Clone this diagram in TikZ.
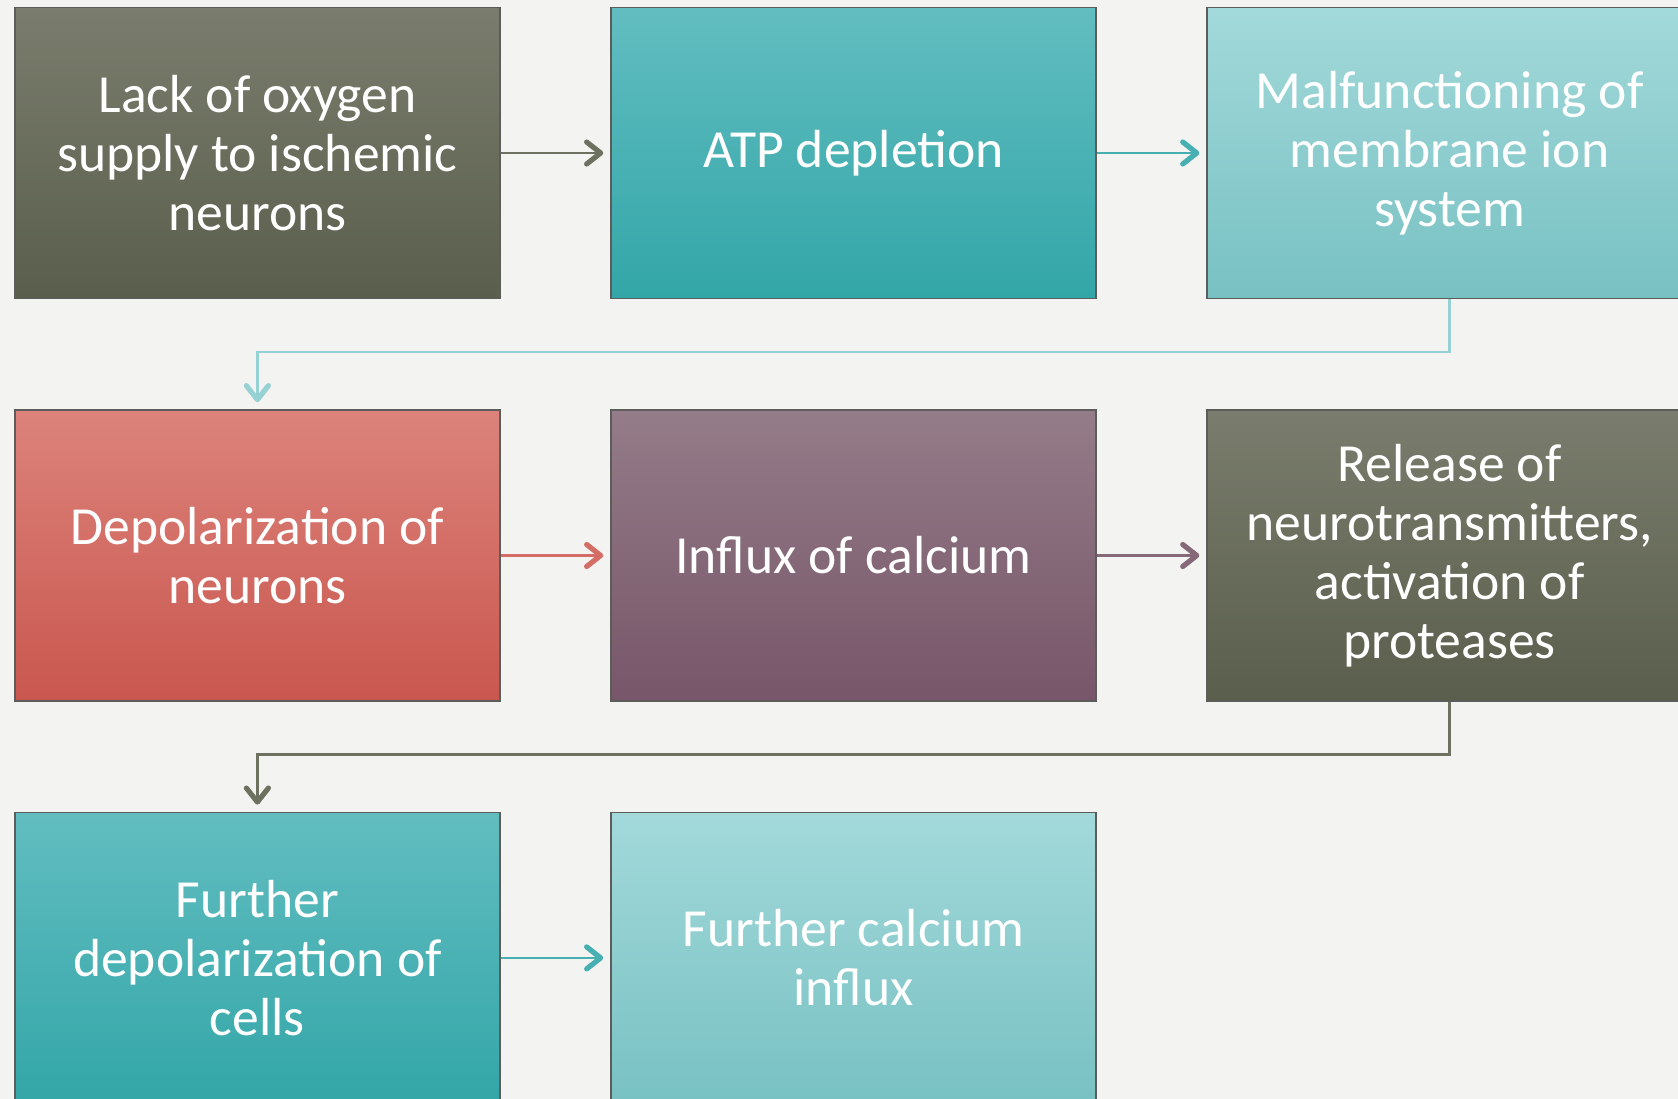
\documentclass[tikz,border=0pt]{standalone}
\usepackage{fontspec}
\setmainfont{Carlito}
\usetikzlibrary{arrows.meta}

\begin{document}
\begin{tikzpicture}[x=0.5pt, y=-0.5pt]

	\def\boxw{242.5pt}
	\def\boxh{145.5pt}

	\def\xa{257.4}
	\def\xb{853.5}
	\def\xc{1449.6}

	\def\ya{153.0}
	\def\yb{555.5}
	\def\yc{957.9}

	\def\ylinka{352}
	\def\ylinkb{754.5}

	% Colours
	\definecolor{bgcolor}{HTML}{F3F3F1}
	\definecolor{framecolor}{HTML}{5C5C5A}
	\definecolor{olivetop}{HTML}{7A7D6D}
	\definecolor{olivebot}{HTML}{5A5E4C}
	\definecolor{tealtop}{HTML}{62BDC0}
	\definecolor{tealbot}{HTML}{33A6A8}
	\definecolor{lighttop}{HTML}{A3D9DA}
	\definecolor{lightbot}{HTML}{78C1C3}
	\definecolor{redtop}{HTML}{DC837B}
	\definecolor{redbot}{HTML}{C9574F}
	\definecolor{purpletop}{HTML}{947C88}
	\definecolor{purplebot}{HTML}{775669}
	\colorlet{olivelink}{olivetop!60!olivebot}
	\colorlet{teallink}{tealtop!40!tealbot}
	\colorlet{lightlink}{lighttop!70!lightbot}
	\colorlet{redlink}{redtop!50!redbot}
	\colorlet{purplelink}{purpletop!50!purplebot}

	% Styles
	\tikzstyle{stepbox}=[draw=framecolor, line width=0.75pt, minimum width=\boxw, minimum height=\boxh,
		inner sep=0pt, text=white, align=center, font=\fontsize{26.8}{29.5}\selectfont]
	\tikzstyle{olivebox}=[stepbox, top color=olivetop, bottom color=olivebot]
	\tikzstyle{tealbox}=[stepbox, top color=tealtop, bottom color=tealbot]
	\tikzstyle{lightbox}=[stepbox, top color=lighttop, bottom color=lightbot]
	\tikzstyle{redbox}=[stepbox, top color=redtop, bottom color=redbot]
	\tikzstyle{purplebox}=[stepbox, top color=purpletop, bottom color=purplebot]
	\tikzstyle{link}=[line width=1.4pt, shorten >=3.5pt,
		-{Straight Barb[length=7pt, width=11pt, line width=2.6pt, round]}]

	% Page
	\useasboundingbox (0,0) rectangle (1678,1099);
	\fill[bgcolor] (0,0) rectangle (1678,1099);

	%== Row 1 ================================================================
	\node[olivebox] (lack) at (\xa, \ya) {Lack of oxygen\\supply to ischemic\\neurons};
	\node[tealbox] (atp) at (\xb, \ya) {ATP depletion};
	\node[lightbox] (malfunction) at (\xc, \ya) {Malfunctioning of\\membrane ion\\system};

	%== Row 2 ================================================================
	\node[redbox] (depol) at (\xa, \yb) {Depolarization of\\neurons};
	\node[purplebox] (influx) at (\xb, \yb) {Influx of calcium};
	\node[olivebox] (release) at (\xc, \yb) {Release of\\neurotransmitters,\\activation of\\proteases};

	%== Row 3 ================================================================
	\node[tealbox] (furtherdepol) at (\xa, \yc) {Further\\depolarization of\\cells};
	\node[lightbox] (furtherinflux) at (\xb, \yc) {Further calcium\\influx};

	% Links
	\coordinate (benda) at (0, \ylinka);
	\coordinate (bendb) at (0, \ylinkb);

	\draw[link, olivelink] (lack) -- (atp);
	\draw[link, teallink] (atp) -- (malfunction);
	\draw[link, lightlink] (malfunction.south) -- (malfunction.south |- benda) -| (depol.north);
	\draw[link, redlink] (depol) -- (influx);
	\draw[link, purplelink] (influx) -- (release);
	\draw[link, olivelink] (release.south) -- (release.south |- bendb) -| (furtherdepol.north);
	\draw[link, teallink] (furtherdepol) -- (furtherinflux);

\end{tikzpicture}
\end{document}
